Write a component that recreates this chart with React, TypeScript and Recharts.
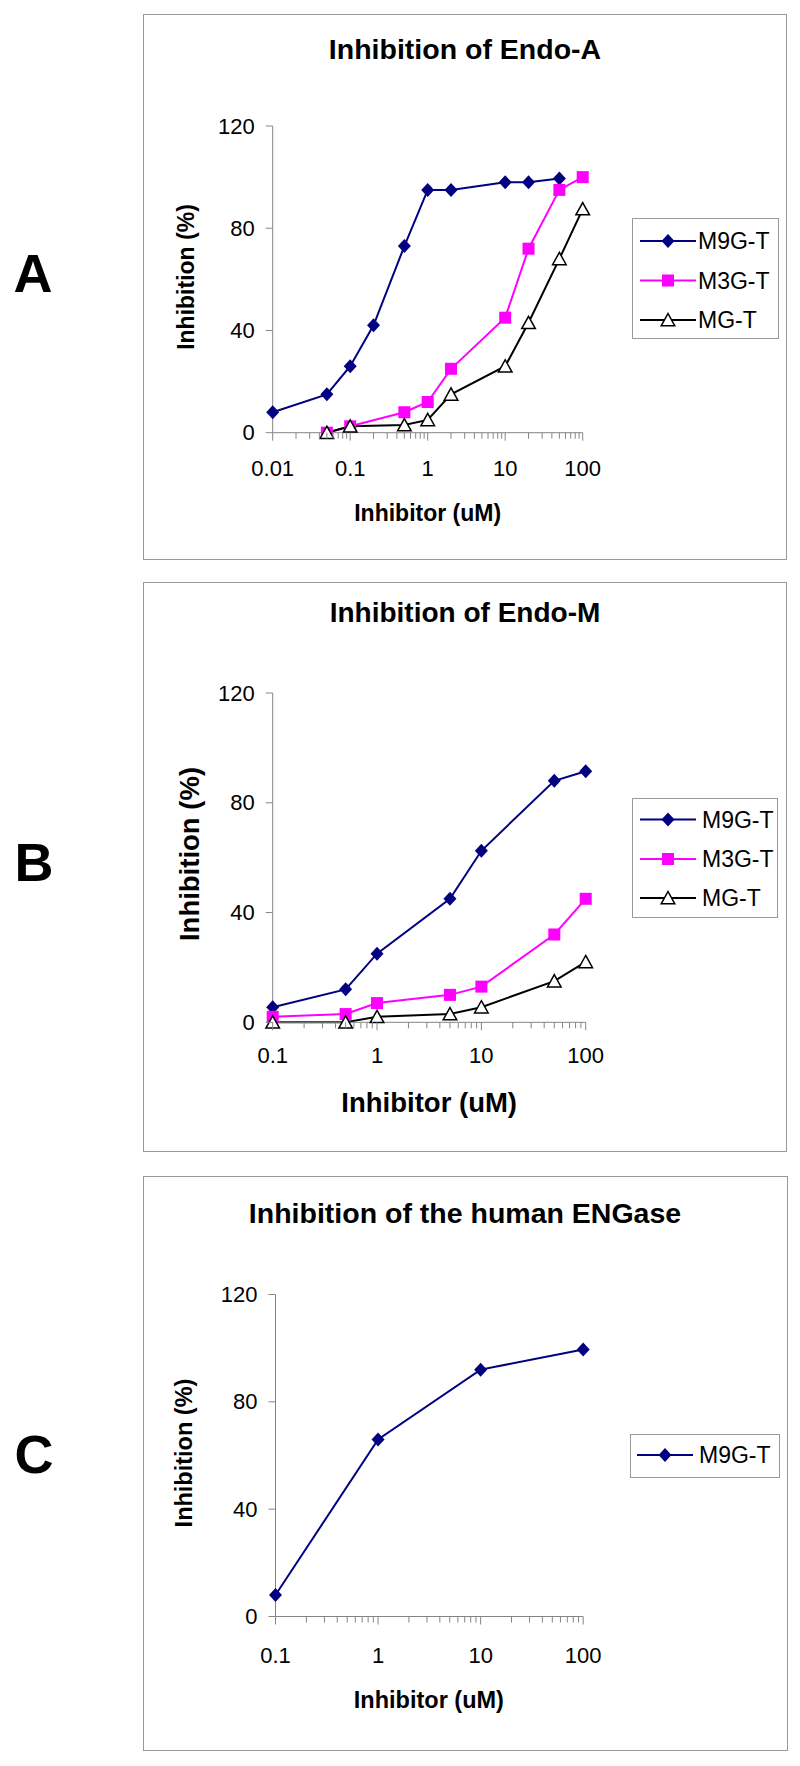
import React from "react";
import { Line, LineChart, XAxis, YAxis } from "recharts";

const FONT = "Arial, 'Liberation Sans', Helvetica, sans-serif";
const NAVY = "#000080";
const MAGENTA = "#FF00FF";
const AXIS = "#858585";
const BORDER = "#9a9a9a";

// ---- data ----
// A: Endo-A
const endoAM9GX = [0.01, 0.05, 0.1, 0.2, 0.5, 1, 2, 10, 20, 50];
const endoAM9GY = [8, 15, 26, 42, 73, 95, 95, 98, 98, 99.5];
const endoAM3GX = [0.05, 0.1, 0.5, 1, 2, 10, 20, 50, 100];
const endoAM3GY = [0, 2.5, 8, 12, 25, 45, 72, 95, 100];
const endoAMGX = [0.05, 0.1, 0.5, 1, 2, 10, 20, 50, 100];
const endoAMGY = [0, 2.5, 3, 5, 15, 26, 43, 68, 87.5];
const endoAXTicks = [0.01, 0.1, 1, 10, 100];

// B: Endo-M
const endoMX = [0.1, 0.5, 1, 5, 10, 50, 100];
const endoMM9GY = [5.5, 12, 25, 45, 62.5, 88, 91.5];
const endoMM3GY = [2, 3, 7, 10, 13, 32, 45];
const endoMMGY = [0, 0, 2, 3, 5.5, 15, 22];
const endoMXTicks = [0.1, 1, 10, 100];

// C: human ENGase
const humanX = [0.1, 1, 10, 100];
const humanM9GY = [8, 66, 92, 99.5];
const humanXTicks = [0.1, 1, 10, 100];

const yTicks = [0, 40, 80, 120];
const seriesNames = ["M9G-T", "M3G-T", "MG-T"];

type Kind = "diamond" | "square" | "triangle";

const zip = (xs: number[], ys: number[]) => xs.map((x, i) => ({ x, y: ys[i] }));

// minor ticks 2..9 inside every decade
const withMinor = (majors: number[]) => {
  const out: number[] = [];
  majors.forEach((d, i) => {
    out.push(d);
    if (i < majors.length - 1) for (let k = 2; k <= 9; k++) out.push(d * k);
  });
  return out;
};

const Marker = ({ kind, cx, cy }: { kind: Kind; cx: number; cy: number }) => {
  if (kind === "diamond")
    return (
      <path
        d={`M${cx},${cy - 7}L${cx + 6.5},${cy}L${cx},${cy + 7}L${cx - 6.5},${cy}Z`}
        fill={NAVY}
      />
    );
  if (kind === "square")
    return <rect x={cx - 6} y={cy - 6} width={12} height={12} fill={MAGENTA} />;
  return (
    <path
      d={`M${cx},${cy - 6.5}L${cx + 6.8},${cy + 5.8}L${cx - 6.8},${cy + 5.8}Z`}
      fill="#fff"
      stroke="#000"
      strokeWidth={1.5}
    />
  );
};

const dotFor = (kind: Kind) => (p: any) => {
  if (p.cx == null || p.cy == null) return <g key={p.index} />;
  return <Marker key={p.index} kind={kind} cx={p.cx} cy={p.cy} />;
};

const styleOf: Record<string, { color: string; kind: Kind }> = {
  "M9G-T": { color: NAVY, kind: "diamond" },
  "M3G-T": { color: MAGENTA, kind: "square" },
  "MG-T": { color: "#000", kind: "triangle" },
};

const XTick = (props: any) => {
  const { x, y, payload, majors, labelDy } = props;
  const major = majors.some((m: number) => Math.abs(m - payload.value) < 1e-9);
  return (
    <g>
      <line x1={x} x2={x} y1={y} y2={y + (major ? 8 : 6)} stroke={AXIS} />
      {major && (
        <text
          x={x}
          y={y + labelDy}
          textAnchor="middle"
          dominantBaseline="central"
          fontFamily={FONT}
          fontSize={22}
          fill="#000"
        >
          {String(payload.value)}
        </text>
      )}
    </g>
  );
};

const YTick = (props: any) => {
  const { x, y, payload } = props;
  return (
    <g>
      <line x1={x - 7} x2={x} y1={y} y2={y} stroke={AXIS} />
      <text
        x={x - 18}
        y={y}
        textAnchor="end"
        dominantBaseline="central"
        fontFamily={FONT}
        fontSize={22}
        fill="#000"
      >
        {payload.value}
      </text>
    </g>
  );
};

type Series = { name: string; data: { x: number; y: number }[] };

type PanelProps = {
  left: number;
  top: number;
  width: number;
  height: number;
  plot: { l: number; r: number; t: number; b: number };
  title: string;
  titleY: number;
  titleSize: number;
  axisSize: number;
  xTitleY: number;
  yTitleX: number;
  yTitleY: number;
  labelDy: number;
  majors: number[];
  series: Series[];
  legend: { l: number; t: number; w: number; h: number; rows: number[]; textX: number };
};

const Centered = ({ x, y, size, bold, rotate, children }: any) => (
  <div
    style={{
      position: "absolute",
      left: x,
      top: y,
      transform: `translate(-50%, -50%)${rotate ? " rotate(-90deg)" : ""}`,
      whiteSpace: "nowrap",
      fontFamily: FONT,
      fontSize: size,
      fontWeight: bold ? 700 : 400,
      lineHeight: 1,
      color: "#000",
    }}
  >
    {children}
  </div>
);

const Panel = (p: PanelProps) => {
  const yAxisW = 40;
  const xAxisH = 30;
  const margin = {
    top: p.plot.t,
    left: p.plot.l - yAxisW,
    right: p.width - p.plot.r,
    bottom: p.height - p.plot.b - xAxisH,
  };
  const ticks = withMinor(p.majors);
  const plotCx = (p.plot.l + p.plot.r) / 2;
  return (
    <div
      style={{
        position: "absolute",
        left: p.left,
        top: p.top,
        width: p.width,
        height: p.height,
      }}
    >
      <div
        style={{
          position: "absolute",
          inset: 0,
          border: `1.5px solid ${BORDER}`,
          boxSizing: "border-box",
        }}
      />
      <div style={{ position: "absolute", left: 0, top: 0 }}>
        <LineChart width={p.width} height={p.height} margin={margin}>
          <XAxis
            type="number"
            dataKey="x"
            scale="log"
            domain={[p.majors[0], p.majors[p.majors.length - 1]]}
            ticks={ticks}
            interval={0}
            height={xAxisH}
            tickSize={0}
            tickMargin={0}
            tickLine={false}
            axisLine={{ stroke: AXIS }}
            tick={(tp: any) => <XTick {...tp} majors={p.majors} labelDy={p.labelDy} />}
          />
          <YAxis
            type="number"
            domain={[0, 120]}
            ticks={yTicks}
            interval={0}
            width={yAxisW}
            tickSize={0}
            tickMargin={0}
            tickLine={false}
            axisLine={{ stroke: AXIS }}
            tick={(tp: any) => <YTick {...tp} />}
          />
          {p.series.map((s) => (
            <Line
              key={s.name}
              data={s.data}
              dataKey="y"
              name={s.name}
              type="linear"
              stroke={styleOf[s.name].color}
              strokeWidth={2}
              dot={dotFor(styleOf[s.name].kind)}
              activeDot={false}
              isAnimationActive={false}
            />
          ))}
        </LineChart>
      </div>
      <Centered x={p.width / 2} y={p.titleY} size={p.titleSize} bold>
        {p.title}
      </Centered>
      <Centered x={plotCx} y={p.xTitleY} size={p.axisSize} bold>
        Inhibitor (uM)
      </Centered>
      <Centered x={p.yTitleX} y={p.yTitleY} size={p.axisSize} bold rotate>
        Inhibition (%)
      </Centered>
      <div
        style={{
          position: "absolute",
          left: p.legend.l,
          top: p.legend.t,
          width: p.legend.w,
          height: p.legend.h,
          border: `1.5px solid ${BORDER}`,
          boxSizing: "border-box",
          background: "#fff",
        }}
      >
        <svg
          width={p.legend.w}
          height={p.legend.h}
          style={{ position: "absolute", left: -1.5, top: -1.5 }}
        >
          {p.series.map((s, i) => {
            const st = styleOf[s.name];
            const cy = p.legend.rows[i];
            return (
              <g key={s.name}>
                <line x1={8} x2={64} y1={cy} y2={cy} stroke={st.color} strokeWidth={2} />
                <Marker kind={st.kind} cx={36} cy={cy} />
                <text
                  x={p.legend.textX}
                  y={cy}
                  dominantBaseline="central"
                  fontFamily={FONT}
                  fontSize={23}
                  fill="#000"
                >
                  {s.name}
                </text>
              </g>
            );
          })}
        </svg>
      </div>
    </div>
  );
};

const BigLetter = ({ x, y, children }: any) => (
  <Centered x={x} y={y} size={54} bold>
    {children}
  </Centered>
);

export default function App() {
  const seriesA: Series[] = [
    { name: seriesNames[0], data: zip(endoAM9GX, endoAM9GY) },
    { name: seriesNames[1], data: zip(endoAM3GX, endoAM3GY) },
    { name: seriesNames[2], data: zip(endoAMGX, endoAMGY) },
  ];
  const seriesB: Series[] = [
    { name: seriesNames[0], data: zip(endoMX, endoMM9GY) },
    { name: seriesNames[1], data: zip(endoMX, endoMM3GY) },
    { name: seriesNames[2], data: zip(endoMX, endoMMGY) },
  ];
  const seriesC: Series[] = [{ name: seriesNames[0], data: zip(humanX, humanM9GY) }];

  return (
    <div
      style={{
        position: "absolute",
        left: 0,
        top: 0,
        width: 800,
        height: 1766,
        background: "#fff",
        overflow: "hidden",
      }}
    >
      <BigLetter x={33} y={273}>A</BigLetter>
      <BigLetter x={34} y={862}>B</BigLetter>
      <BigLetter x={34} y={1454}>C</BigLetter>

      <Panel
        left={143}
        top={14}
        width={644}
        height={546}
        plot={{ l: 129.7, r: 439.7, t: 112, b: 418.7 }}
        title="Inhibition of Endo-A"
        titleY={34.5}
        titleSize={28.5}
        axisSize={23}
        xTitleY={499}
        yTitleX={43}
        yTitleY={263}
        labelDy={36}
        majors={endoAXTicks}
        series={seriesA}
        legend={{ l: 489, t: 204, w: 147, h: 121, rows: [23, 62.5, 102], textX: 66 }}
      />
      <Panel
        left={143}
        top={582}
        width={644}
        height={570}
        plot={{ l: 129.7, r: 442.7, t: 111, b: 440.3 }}
        title="Inhibition of Endo-M"
        titleY={31}
        titleSize={28}
        axisSize={27.5}
        xTitleY={521}
        yTitleX={47}
        yTitleY={272}
        labelDy={33}
        majors={endoMXTicks}
        series={seriesB}
        legend={{ l: 489, t: 216, w: 146, h: 120, rows: [21.5, 61, 100], textX: 70 }}
      />
      <Panel
        left={142.5}
        top={1175.5}
        width={645}
        height={575}
        plot={{ l: 132.5, r: 440.2, t: 118.5, b: 440.5 }}
        title="Inhibition of the human ENGase"
        titleY={37}
        titleSize={28.5}
        axisSize={23.5}
        xTitleY={525.5}
        yTitleX={42.5}
        yTitleY={277}
        labelDy={38.5}
        majors={humanXTicks}
        series={seriesC}
        legend={{ l: 487, t: 258, w: 150, h: 44, rows: [22], textX: 70 }}
      />
    </div>
  );
}
